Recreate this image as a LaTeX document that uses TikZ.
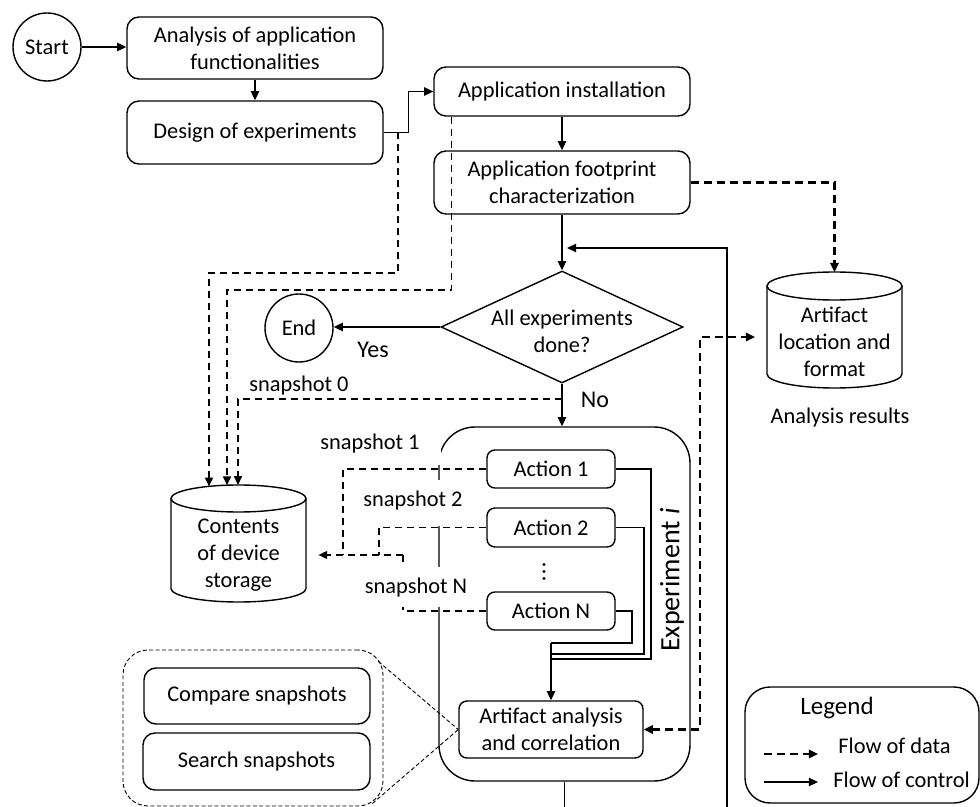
\documentclass[tikz,border=0pt]{standalone}
\usepackage{fontspec}
\setmainfont{Carlito}
\usetikzlibrary{arrows.meta,shapes.geometric}
\begin{document}
\begin{tikzpicture}[x=0.5pt,y=-0.5pt,
  base/.style={font=\fontsize{11.2}{13.5}\selectfont},
  lbl/.style={font=\fontsize{12}{14}\selectfont},
  box/.style={draw, line width=0.7pt, rounded corners=6pt, align=center, inner sep=0pt, base},
  abox/.style={draw, line width=0.7pt, rounded corners=4pt, align=center, inner sep=0pt, base},
  circ/.style={draw, circle, line width=0.7pt, minimum size=34pt, inner sep=0pt, base},
  cline/.style={line width=0.6pt},
  ctl/.style={line width=0.7pt, -{Triangle[length=4.6pt,width=4.2pt]}},
  dthin/.style={line width=0.65pt, dash pattern=on 3.5pt off 2.5pt},
  tipthin/.style={-{Triangle[length=4.4pt,width=4pt]}},
  dthick/.style={line width=1.1pt, dash pattern=on 4pt off 2.5pt},
  tip/.style={-{Triangle[length=4.6pt,width=4.2pt]}},
  tipboth/.style={{Triangle[length=4.6pt,width=4.2pt]}-{Triangle[length=4.6pt,width=4.2pt]}},
  gline/.style={line width=0.45pt, dash pattern=on 2pt off 1.2pt}
]
\useasboundingbox (0,0) rectangle (980,807);
\clip (0,0) rectangle (980,807);

% experiment container (drawn first, partly hidden by labels)
\node[draw, line width=0.7pt, rounded corners=18pt, minimum width=125.5pt, minimum height=177pt, inner sep=0pt] (exp) at (564.5,604) {};

% top chain
\node[circ] (start) at (47,47) {Start};
\node[box, minimum width=128pt, minimum height=31pt] (a1) at (255,48) {Analysis of application\\functionalities};
\node[box, minimum width=128pt, minimum height=31.5pt] (a2) at (255,132.5) {Design of experiments};
\node[box, minimum width=128pt, minimum height=24.5pt] (a3) at (562,91.5) {Application installation};
\node[box, minimum width=128pt, minimum height=31.5pt] (a4) at (562,182.5) {Application footprint\\characterization};
\node[draw, diamond, line width=0.7pt, inner sep=0pt, minimum width=121pt, minimum height=56pt] (dec) at (562,327) {};
\node[base, align=center] (dect) at (562,331) {All experiments\\done?};
\node[circ] (end) at (299,328) {End};

% cylinders
\node[inner sep=0pt, minimum width=67.5pt, minimum height=58pt] (art) at (834.5,330) {};
\draw[line width=0.7pt] (834.5,286) ellipse [x radius=33.75pt, y radius=7pt];
\draw[line width=0.7pt] (767,286) -- (767,374) arc[start angle=180, end angle=360, x radius=33.75pt, y radius=7pt] -- (902,286);
\node[base, align=center] (artt) at (834.5,341.5) {Artifact\\location and\\format};
\node[base] (res) at (840,418) {Analysis results};

\node[inner sep=0pt, minimum width=67.5pt, minimum height=58.5pt] (cont) at (238.5,543.5) {};
\draw[line width=0.7pt] (238.5,498.5) ellipse [x radius=33.75pt, y radius=6.75pt];
\draw[line width=0.7pt] (171,498.5) -- (171,588.5) arc[start angle=180, end angle=360, x radius=33.75pt, y radius=6.75pt] -- (306,498.5);
\node[base, align=center] (contt) at (238.5,555) {Contents\\of device\\storage};

% actions
\node[abox, minimum width=64pt, minimum height=19pt] (act1) at (551,469) {Action 1};
\node[abox, minimum width=64pt, minimum height=19.5pt] (act2) at (551,527.5) {Action 2};
\fill (544,564.5) circle[radius=0.8pt] (544,571.5) circle[radius=0.8pt] (544,578.5) circle[radius=0.8pt];
\node[abox, minimum width=64pt, minimum height=19pt] (actN) at (551,611) {Action N};
\node[abox, minimum width=92pt, minimum height=28.5pt] (ana) at (551,729.5) {Artifact analysis\\and correlation};
\node[font=\fontsize{14}{16}\selectfont, rotate=90] (expl) at (672,580) {Experiment \textit{i}};

% snapshot data lines
\coordinate (m1) at (343,555);
\coordinate (m2) at (379,555);
\coordinate (m3) at (403,555);
\draw[dthin] (act1.west) -| (m1);
\draw[dthin] (act2.west) -| (m2);
\draw[dthin] (actN.west) -| (m3);
\draw[dthin, tipthin, shorten >=6pt] (m3) -- (m3 -| cont.east);

% white label backgrounds
\fill[white] (320,423) rectangle (441,465);
\fill[white] (360,480) rectangle (441,526);
\fill[white] (362,567) rectangle (441,607);
\node[base] (s1) at (370,444) {snapshot 1};
\node[base] (s2) at (413,501) {snapshot 2};
\node[base] (sN) at (416,588) {snapshot N};
\node[base] (s0l) at (299,386) {snapshot 0};
\node[lbl] (yes) at (373,350) {Yes};
\node[lbl] (no) at (595,400) {No};

% control flow
\draw[ctl] (start.east) -- (start.east -| a1.west);
\draw[ctl] (a1.south) -- (a2.north);
\draw[ctl] (a2.east) -- ++(25,0) |- (a3.west);
\draw[ctl] (a3.south) -- (a4.north);
\draw[ctl] (a4.south) -- (dec.north);
\draw[ctl] (dec.west) -- (dec.west -| end.east);
\draw[ctl] (dec.south) -- (dec.south |- exp.north);
\draw[cline] (act1.east) -| (651,659) -- (551,659);
\draw[cline] (act2.east) -| (644,654) -- (551,654);
\draw[cline] (actN.east) -| (632,643) -- (551,643);
\coordinate (mj) at (551,643);
\draw[ctl] (mj) -- (ana.north);
\coordinate (loopIn) at (567,248);
\draw[ctl] (exp.south) -- ++(0,60) -| (727,248) -- (loopIn);

% data flow
\coordinate (j1) at (398,132.5);
\coordinate (c1) at (209,486.4);
\coordinate (c2) at (227,485.2);
\coordinate (c3) at (238,485);
\draw[dthin, tipthin] (j1) -- (398,273) -| (c1);
\draw[dthin, tipthin] ([xshift=9pt]a3.south west) |- (227,290) -- (c2);
\coordinate (s0) at (562,399);
\draw[dthin, tipthin] (s0) -| (c3);
\coordinate (artTop) at (834.5,272);
\draw[dthick, tip] (a4.east) -| (artTop);
\coordinate (artL) at (755,337);
\draw[dthick, tipboth] (ana.east) -- (700,729.5) -- (700,337) -- (artL);

% snapshot operations group
\node[draw, line width=0.45pt, dash pattern=on 2pt off 1.2pt, rounded corners=12.5pt, minimum width=130pt, minimum height=78pt, inner sep=0pt] (grp) at (253,728) {};
\node[box, minimum width=113pt, minimum height=28pt] (cmp) at (257,696) {Compare snapshots};
\node[box, minimum width=113.5pt, minimum height=28.5pt] (srch) at (256.5,761.5) {Search snapshots};
\draw[gline] ([xshift=-2.5pt,yshift=-6pt]grp.north east) -- (ana.west);
\draw[gline] ([xshift=-5.5pt,yshift=1.5pt]grp.south east) -- (ana.west);

% legend
\node[draw, line width=0.7pt, rounded corners=12.5pt, minimum width=117pt, minimum height=58pt, inner sep=0pt] (leg) at (862,745) {};
\node[font=\fontsize{12.5}{15}\selectfont, anchor=west, inner sep=0pt] (legt) at (800,708) {Legend};
\node[base, anchor=west, inner sep=0pt] (ld) at (838,746) {Flow of data};
\node[base, anchor=west, inner sep=0pt] (lc) at (833,780) {Flow of control};
\coordinate (ld1) at (764,754);
\coordinate (ld2) at (818,754);
\coordinate (lc1) at (764,782);
\coordinate (lc2) at (818,782);
\draw[dthick, tip] (ld1) -- (ld2);
\draw[ctl] (lc1) -- (lc2);
\end{tikzpicture}
\end{document}
